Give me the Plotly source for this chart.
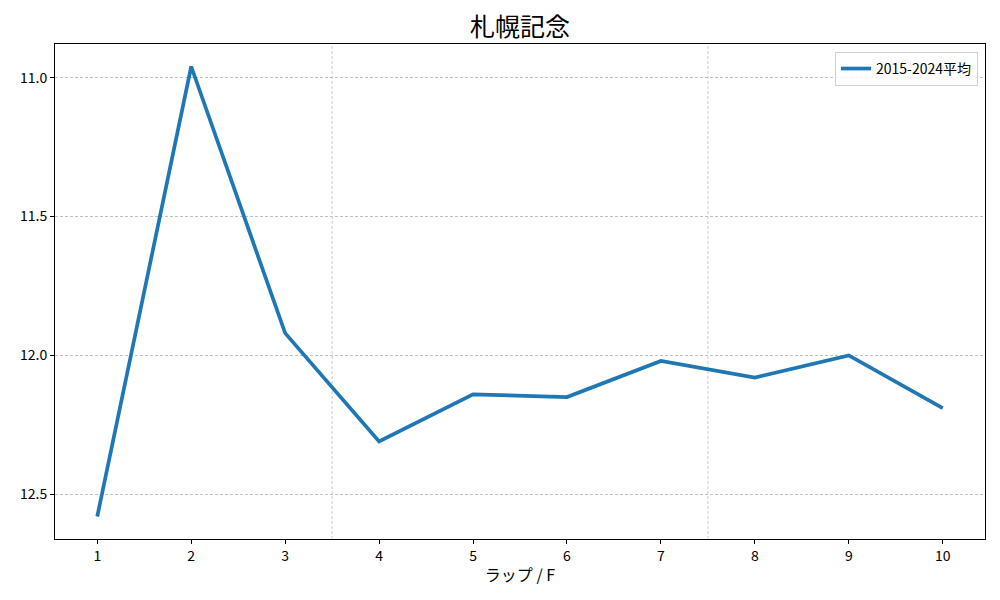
import plotly.graph_objects as go

laps = [1, 2, 3, 4, 5, 6, 7, 8, 9, 10]
avg_2015_2024 = [12.58, 10.96, 11.92, 12.31, 12.14, 12.15, 12.02, 12.08, 12.00, 12.19]
y_ticks = [11.0, 11.5, 12.0, 12.5]
y_tick_labels = ["11.0", "11.5", "12.0", "12.5"]
section_lines = [3.5, 7.5]

FONT = "Noto Sans CJK JP, DejaVu Sans, sans-serif"

fig = go.Figure()
fig.add_trace(go.Scatter(
    x=laps, y=avg_2015_2024, mode="lines", name="2015-2024平均",
    line=dict(color="#1f77b4", width=3.7),
))

for xv in section_lines:
    fig.add_shape(type="line", xref="x", yref="paper", x0=xv, x1=xv, y0=0, y1=1,
                  line=dict(color="#c0c0c0", width=0.8, dash="3px,2px"), layer="below")

ymin, ymax = min(avg_2015_2024), max(avg_2015_2024)
pad = (ymax - ymin) * 0.05

fig.update_layout(
    width=1000, height=600,
    margin=dict(l=47, r=23, t=36, b=69, autoexpand=False),
    paper_bgcolor="white", plot_bgcolor="white",
    font=dict(family=FONT, size=15, color="#000000"),
    title=dict(text="札幌記念", x=0.512, xanchor="center", y=0.968, yanchor="middle",
               font=dict(size=25, family=FONT, color="#000000")),
    showlegend=True,
    legend=dict(x=0.9925, y=0.984, xanchor="right", yanchor="top",
                bgcolor="rgba(255,255,255,0.8)", bordercolor="#d0d0d0", borderwidth=1,
                font=dict(size=14, family=FONT), tracegroupgap=0),
    xaxis=dict(
        range=[laps[0] - 0.45, laps[-1] + 0.45], tickmode="array", tickvals=laps,
        ticktext=[str(v) for v in laps], showgrid=False, zeroline=False,
        showline=True, linecolor="black", linewidth=1, mirror=True,
        ticks="outside", ticklen=4, tickcolor="black", automargin=False,
        tickfont=dict(size=14),
        title=dict(text="ラップ / F", font=dict(size=16, family=FONT), standoff=6),
    ),
    yaxis=dict(
        range=[ymax + pad, ymin - pad], tickmode="array", tickvals=y_ticks,
        ticktext=y_tick_labels, showgrid=True, gridcolor="#c0c0c0", gridwidth=0.7,
        griddash="3px,2px", zeroline=False, automargin=False,
        showline=True, linecolor="black", linewidth=1, mirror=True,
        ticks="outside", ticklen=4, tickcolor="black", tickfont=dict(size=14),
    ),
)

fig.write_html("out.html")
